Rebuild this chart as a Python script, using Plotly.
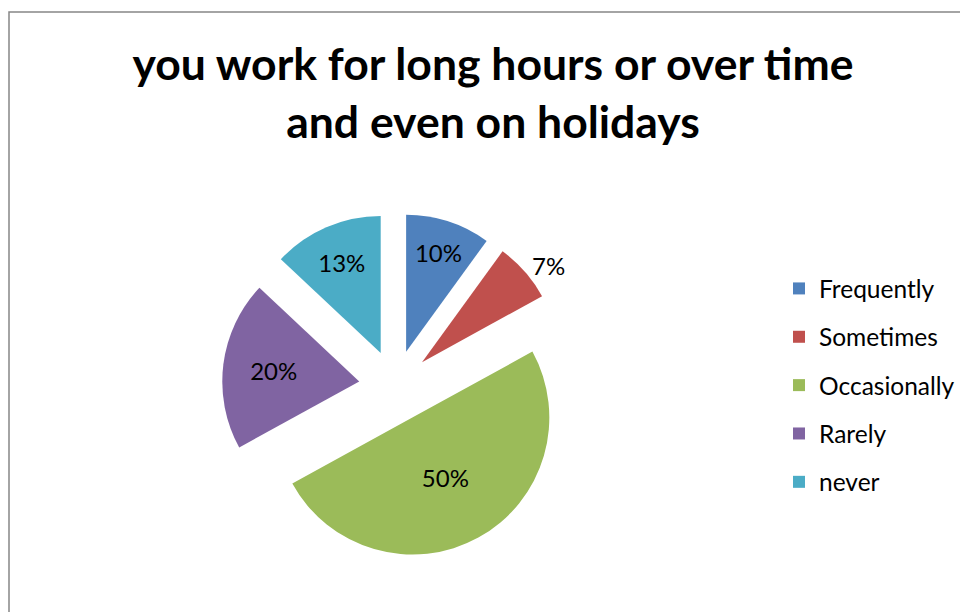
import plotly.graph_objects as go

categories = ["Frequently", "Sometimes", "Occasionally", "Rarely", "never"]
values = [10, 7, 50, 20, 13]
colors = ["#4F81BD", "#C0504D", "#9BBB59", "#8064A2", "#4BACC6"]
text_pos = ["inside", "outside", "inside", "inside", "inside"]
title_text = "you work for long hours or over time<br>and even on holidays"

W, H = 968, 612
FONT = "Lato, Carlito, Calibri, sans-serif"

fig = go.Figure()
fig.add_trace(go.Pie(
    labels=categories, values=values, sort=False, direction="clockwise", rotation=0,
    marker=dict(colors=colors, line=dict(width=0)),
    pull=[0.263] * len(values),
    textinfo="percent", texttemplate="%{percent:.0%}",
    textposition=text_pos, insidetextorientation="horizontal",
    textfont=dict(family=FONT, size=24, color="black"),
    showlegend=False, hoverinfo="label+percent",
    domain=dict(x=[214 / W, 560 / W], y=[1 - 551 / H, 1 - 205 / H]),
))
# legend entries, one per category
for c, col in zip(categories, colors):
    fig.add_trace(go.Scatter(
        x=[None], y=[None], mode="markers", name=c, legendgroup=c,
        marker=dict(symbol="square", size=12, color=col),
    ))

fig.update_layout(
    width=W, height=H,
    margin=dict(l=0, r=0, t=0, b=0, autoexpand=False),
    paper_bgcolor="white", plot_bgcolor="white",
    xaxis=dict(visible=False), yaxis=dict(visible=False),
    title=dict(text=title_text, x=485 / W, xanchor="center", y=1 - 72 / H, yanchor="top",
               font=dict(family=FONT, size=44.5, color="black", weight="bold")),
    legend=dict(x=771 / W, y=1 - 258 / H, xanchor="left", yanchor="top",
                font=dict(family=FONT, size=24.5, color="black"),
                tracegroupgap=13.5, itemsizing="trace"),
    shapes=[dict(type="rect", xref="paper", yref="paper",
                 x0=1 / W, x1=1.02, y0=-0.02, y1=1 - 4 / H,
                 line=dict(color="#868686", width=1.5))],
)
fig.write_html("out.html")
